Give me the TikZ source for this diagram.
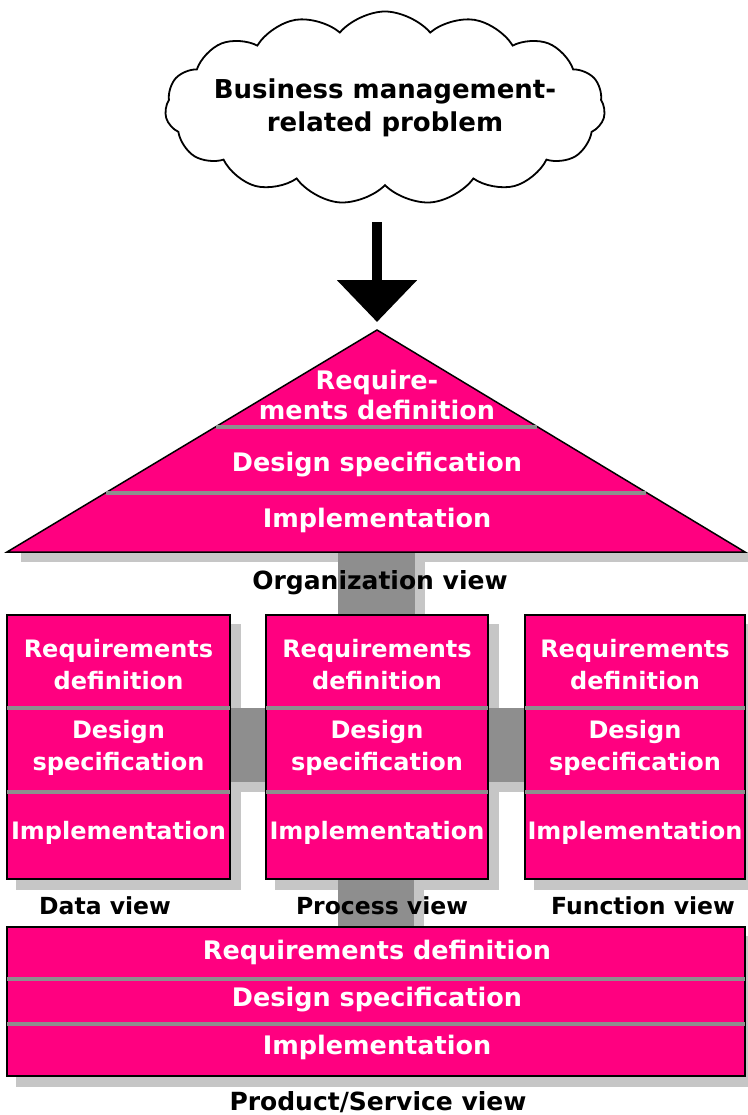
\documentclass[tikz,border=0pt]{standalone}
\usepackage{fontspec}
\setmainfont{DejaVu Sans}
\usetikzlibrary{shapes.symbols,arrows.meta,calc,backgrounds}
\definecolor{viewpink}{HTML}{FF0080}
\definecolor{linkdark}{HTML}{8E8E8E}
\definecolor{linklight}{HTML}{C6C6C6}
\begin{document}
\begin{tikzpicture}[x=1pt, y=-1pt,
		viewbox/.style={draw=black, line width=1.5pt, fill=viewpink, inner sep=0pt},
		boxshadow/.style={fill=linklight},
		link/.style={fill=linkdark},
		layersep/.style={draw=linkdark, line width=3.5pt, shorten <=1pt, shorten >=1pt},
		boxtext/.style={text=white, align=center, font=\bfseries\fontsize{24}{32}\selectfont},
		widetext/.style={text=white, align=center, font=\bfseries\fontsize{25.5}{30}\selectfont},
		viewlabel/.style={font=\bfseries\fontsize{23.5}{28}\selectfont},
		widelabel/.style={font=\bfseries\fontsize{25}{28}\selectfont}]
		\useasboundingbox (0,0) rectangle (747,1115);
		
		\node[cloud, draw, line width=1.8pt, cloud puffs=15, cloud puff arc=100, aspect=3.6,
			inner xsep=-40pt, inner ysep=-3.5pt, minimum width=440, minimum height=193, align=center,
			font=\bfseries\fontsize{26}{33}\selectfont] (problem) at (385,108) {Business management-\\related problem};
		
		\coordinate (apex) at (377,330);
		\coordinate (baseL) at (7,552);
		\coordinate (baseR) at (745,552);
		\coordinate (orgfoot) at (377,552);
		\coordinate (bartop) at (0,708);
		\coordinate (barbot) at (0,782);
		
		\node[viewbox, minimum width=223, minimum height=264] (data) at (118.5,747) {};
		\node[viewbox, minimum width=222, minimum height=264] (proc) at (377,747) {};
		\node[viewbox, minimum width=220, minimum height=264] (func) at (635,747) {};
		\node[viewbox, minimum width=738, minimum height=149] (prod) at (376,1001.5) {};
		
		\begin{pgfonlayer}{background}
		\fill[boxshadow] ($(baseL)+(14,0)$) rectangle ($(baseR)+(10,10)$);
		\foreach \v in {data, proc, func, prod}
			\fill[boxshadow] ($(\v.south west)+(10,10)$) rectangle ($(\v.north east)+(10,10)$);
		\fill[boxshadow] ($(orgfoot)+(-29,0)$) rectangle ($(proc.north)+(48,0)$);
		\fill[boxshadow] ($(proc.south)+(-29,0)$) rectangle ($(prod.north)+(48,0)$);
		\fill[boxshadow] ($(data.east |- bartop)+(0,10)$) rectangle ($(proc.west |- barbot)+(0,10)$);
		\fill[boxshadow] ($(proc.east |- bartop)+(0,10)$) rectangle ($(func.west |- barbot)+(0,10)$);
		\fill[link] ($(orgfoot)+(-39,0)$) rectangle ($(proc.north)+(38,0)$);
		\fill[link] ($(proc.south)+(-39,0)$) rectangle ($(prod.north)+(38,0)$);
		\fill[link] (data.east |- bartop) rectangle (proc.west |- barbot);
		\fill[link] (proc.east |- bartop) rectangle (func.west |- barbot);
		\end{pgfonlayer}
		
		\draw[line width=10pt, -{Triangle[width=78pt, length=42pt]}, shorten <=36pt, shorten >=8pt]
			(problem.south -| apex) -- (apex);
		
		\draw[viewbox] (apex) -- (baseR) -- (baseL) -- cycle;
		\draw[layersep] ($(apex)!0.437!(baseL)$) -- ($(apex)!0.437!(baseR)$);
		\draw[layersep] ($(apex)!0.734!(baseL)$) -- ($(apex)!0.734!(baseR)$);
		\node[widetext] (orgreq) at (377,395) {Require-\\ments definition};
		\node[widetext] (orgdes) at (377,465) {Design specification};
		\node[widetext] (orgimp) at (377,520) {Implementation};
		\node[widelabel] (orglabel) at (380,583) {Organization view};
		
		\foreach \v in {data, proc, func} {
			\draw[layersep] (\v.west |- bartop) -- (\v.east |- bartop);
			\draw[layersep] ($(\v.west)+(0,45)$) -- ($(\v.east)+(0,45)$);
			\node[boxtext] (\v req) at ($(\v.center)+(0,-82)$) {Requirements\\definition};
			\node[boxtext] (\v des) at ($(\v.center)+(0,1)$) {Design\\specification};
			\node[boxtext] (\v imp) at ($(\v.center)+(0,86)$) {Implementation};
		}
		\node[viewlabel] (datalabel) at (105,906) {Data view};
		\node[viewlabel] (proclabel) at (382,906) {Process view};
		\node[viewlabel] (funclabel) at (643,906) {Function view};
		
		\draw[layersep] ($(prod.west)+(0,-22.5)$) -- ($(prod.east)+(0,-22.5)$);
		\draw[layersep] ($(prod.west)+(0,22.5)$) -- ($(prod.east)+(0,22.5)$);
		\node[widetext] (prodreq) at (377,952) {Requirements definition};
		\node[widetext] (proddes) at (377,1000) {Design specification};
		\node[widetext] (prodimp) at (377,1047) {Implementation};
		\node[widelabel] (prodlabel) at (378,1102) {Product/Service view};
	\end{tikzpicture}
\end{document}
